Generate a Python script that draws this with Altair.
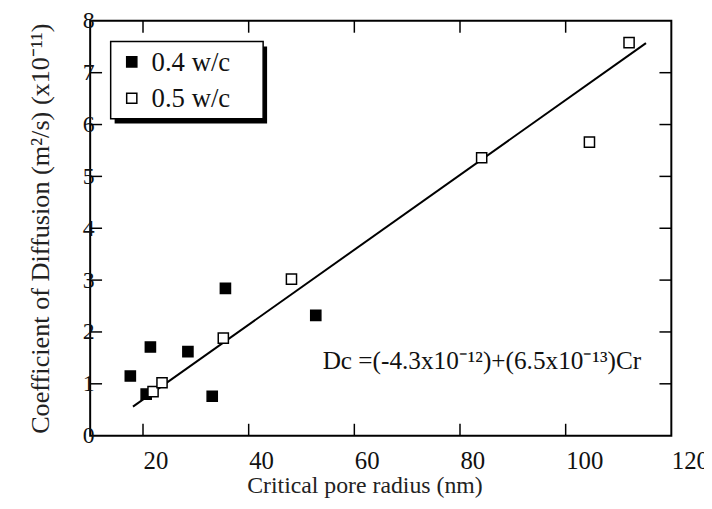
import altair as alt
import pandas as pd

FONT = "Liberation Serif"

# ---- data ----
series = ["0.4 w/c", "0.5 w/c"]
series_fill = ["black", "white"]
x_04 = [17.6, 20.6, 21.4, 28.5, 33.1, 35.6, 52.7]
y_04 = [1.15, 0.80, 1.71, 1.62, 0.76, 2.84, 2.32]
x_05 = [21.9, 23.6, 35.2, 48.1, 84.1, 104.5, 112.0]
y_05 = [0.85, 1.02, 1.88, 3.02, 5.36, 5.66, 7.58]
fit_x = [18.1, 115.2]
fit_y = [0.56, 7.57]
x_ticks = [20, 40, 60, 80, 100, 120]
y_ticks = [0, 1, 2, 3, 4, 5, 6, 7, 8]
x_inner_ticks = [20, 40, 60, 80, 100]
y_inner_ticks = [1, 2, 3, 4, 5, 6, 7]
equation = "Dc =(-4.3x10\u207b\u00b9\u00b2)+(6.5x10\u207b\u00b9\u00b3)Cr"
eq_pos = [54.0, 1.29]

W, H = 587, 419
TICK = 12

pts = pd.DataFrame({
    "x": x_04 + x_05,
    "y": y_04 + y_05,
    "s": [series[0]] * len(x_04) + [series[1]] * len(x_05),
})
fit = pd.DataFrame({"x": fit_x, "y": fit_y})
xt = pd.DataFrame({"x": x_inner_ticks})
yt = pd.DataFrame({"y": y_inner_ticks})

xscale = alt.Scale(domain=[10, 120], nice=False, zero=False)
yscale = alt.Scale(domain=[0, 8], nice=False, zero=False)

xaxis = alt.Axis(values=x_ticks, ticks=False, tickSize=0, domain=False, grid=False,
                 labelAlign="left", labelBaseline="top", labelPadding=13,
                 labelFontSize=25, labelFont=FONT, labelColor="#111",
                 labelFlush=False, labelOverlap=False, format="d",
                 titleFont=FONT, titleFontSize=24, titleFontWeight="normal",
                 titleColor="#222", titleX=277, titleY=57, titleAlign="center",
                 titleBaseline="alphabetic")
yaxis = alt.Axis(values=y_ticks, ticks=False, tickSize=0, domain=False, grid=False,
                 labelAlign="center", labelBaseline="middle", labelPadding=2,
                 labelFontSize=24, labelFont=FONT, labelColor="#111",
                 labelFlush=False, labelOverlap=False, format="d",
                 titleFont=FONT, titleFontSize=26.5, titleFontWeight="normal",
                 titleColor="#222", titleX=-42, titleAngle=270, titleAlign="center",
                 titleBaseline="alphabetic")

XT = "Critical pore radius (nm)"
YT = "Coefficient of Diffusion (m\u00b2/s) (x10\u207b\u00b9\u00b9)"


def X(field):
    return alt.X(field, type="quantitative", scale=xscale, axis=xaxis, title=XT)


def Y(field):
    return alt.Y(field, type="quantitative", scale=yscale, axis=yaxis, title=YT)


line = alt.Chart(fit).mark_line(color="black", strokeWidth=2).encode(x=X("x"), y=Y("y"))

points = alt.Chart(pts).mark_point(shape="square", filled=True, size=105, stroke="black",
                                   strokeWidth=1.5, opacity=1).encode(
    x=X("x"), y=Y("y"),
    fill=alt.Fill("s:N", scale=alt.Scale(domain=series, range=series_fill), legend=None),
)

bottom_ticks = alt.Chart(xt).mark_rule(color="black", strokeWidth=1.5).encode(
    x=X("x"), y=alt.value(H), y2=alt.value(H - TICK))
top_ticks = alt.Chart(xt).mark_rule(color="black", strokeWidth=1.5).encode(
    x=X("x"), y=alt.value(0), y2=alt.value(TICK))
left_ticks = alt.Chart(yt).mark_rule(color="black", strokeWidth=1.5).encode(
    y=Y("y"), x=alt.value(0), x2=alt.value(TICK))
right_ticks = alt.Chart(yt).mark_rule(color="black", strokeWidth=1.5).encode(
    y=Y("y"), x=alt.value(W), x2=alt.value(W - TICK))

# ---- legend box (drawn by hand to match the boxed, shadowed key) ----
LX0, LY0, LW, LH = 20.7, 20.8, 154, 78
one = pd.DataFrame({"k": [0]})
shadow = alt.Chart(one).mark_rect(color="black").encode(
    x=alt.value(LX0 + 4), x2=alt.value(LX0 + LW + 4),
    y=alt.value(LY0 + 5), y2=alt.value(LY0 + LH + 5))
box = alt.Chart(one).mark_rect(fill="white", stroke="black", strokeWidth=1.5).encode(
    x=alt.value(LX0), x2=alt.value(LX0 + LW),
    y=alt.value(LY0), y2=alt.value(LY0 + LH))
legend_layers = []
row_y = [41.5, 78.2]
for i, s in enumerate(series):
    d = pd.DataFrame({"s": [s]})
    legend_layers.append(
        alt.Chart(d).mark_point(shape="square", filled=True, size=105, stroke="black",
                                strokeWidth=1.5, opacity=1, fill=series_fill[i]).encode(
            x=alt.value(42), y=alt.value(row_y[i])))
    legend_layers.append(
        alt.Chart(d).mark_text(align="left", baseline="middle", font=FONT, fontSize=27,
                               color="#111", dy=1).encode(
            x=alt.value(62), y=alt.value(row_y[i]), text="s:N"))

eq = alt.Chart(pd.DataFrame({"x": [eq_pos[0]], "y": [eq_pos[1]], "t": [equation]})).mark_text(
    align="left", baseline="alphabetic", font=FONT, fontSize=25.5, color="#111").encode(
    x=X("x"), y=Y("y"), text="t:N")

chart = alt.layer(bottom_ticks, top_ticks, left_ticks, right_ticks, line, points, eq,
                  shadow, box, *legend_layers).properties(
    width=W, height=H,
    autosize=alt.AutoSizeParams(type="none"),
    padding={"left": 83, "top": 10.5, "right": 33, "bottom": 60},
    background="white",
).configure_view(stroke="black", strokeWidth=2)

chart.save("out.html", embed_options={"renderer": "svg", "actions": False})
